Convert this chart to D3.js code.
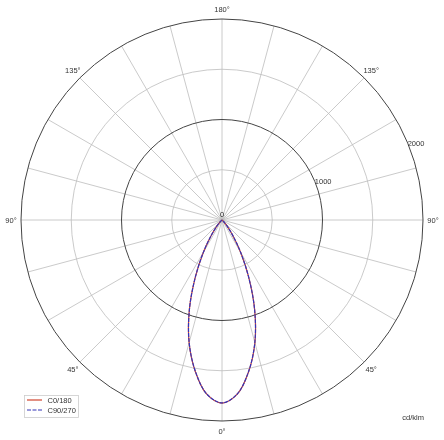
<!DOCTYPE html>
<html>
<head>
<meta charset="utf-8">
<script src="https://cdn.jsdelivr.net/npm/d3@7"></script>
<style>
  body { margin: 0; background: #fff; }
  svg { will-change: transform; }
  text { font-family: "Liberation Sans", Arial, sans-serif; fill: #333; }
</style>
</head>
<body>
<div id="chart"></div>
<script>
var width = 444;
var height = 440;
var cx = 222;
var cy = 220;
var maxR = 201;

// gamma angles (deg from nadir) and intensities in cd/klm
let gammas = [0, 5, 10, 15, 20, 25, 30, 35, 40, 45, 50, 55, 60, 65, 70, 75, 80, 85, 90, 105, 120, 135, 150, 165, 180];
let c0_180 = [1822, 1740, 1530, 1265, 950, 630, 370, 185, 80, 28, 9, 3, 0, 0, 0, 0, 0, 0, 0, 0, 0, 0, 0, 0, 0];
let c90_270 = [1820, 1738, 1528, 1262, 948, 628, 368, 184, 80, 28, 9, 3, 0, 0, 0, 0, 0, 0, 0, 0, 0, 0, 0, 0, 0];

let ringValues = [500, 1000, 1500, 2000];
let majorRings = [1000, 2000];
let ringLabels = ["1000", "2000"];
let angleLabels = [0, 45, 90, 135, 180];
let seriesNames = ["C0/180", "C90/270"];

let scaleR = d3.scaleLinear().domain([0, 2000]).range([0, maxR]);

let svg = d3.select("#chart")
            .append("svg")
            .attr("width", width)
            .attr("height", height);

let chart = svg.append("g")
            .attr("transform", "translate(" + cx + "," + cy + ")");

// gamma -> screen point, side = 1 right, -1 left
const pt = (g, r, side) => {
    let a = g * Math.PI / 180;
    return [side * r * Math.sin(a), r * Math.cos(a)];
};

// spokes every 15 deg
chart.selectAll(".spoke")
    .data(d3.range(0, 360, 15))
    .enter()
    .append("line")
    .attr("x1", 0).attr("y1", 0)
    .attr("x2", d => pt(d, maxR, 1)[0])
    .attr("y2", d => pt(d, maxR, 1)[1])
    .attr("stroke", "#bdbdbd")
    .attr("stroke-width", 0.8);

chart.selectAll(".ring")
    .data(ringValues)
    .enter()
    .append("circle")
    .attr("r", d => scaleR(d))
    .attr("fill", "none")
    .attr("stroke", d => majorRings.includes(d) ? "#444" : "#bdbdbd")
    .attr("stroke-width", d => majorRings.includes(d) ? 1 : 0.8);

// curves: left half (C180 / C270) then right half (C0 / C90)
const curvePoints = (vals) => {
    let left = gammas.map((g, i) => pt(g, scaleR(vals[i]), -1)).reverse();
    let right = gammas.map((g, i) => pt(g, scaleR(vals[i]), 1));
    return left.concat(right.slice(1));
};

let line = d3.line().curve(d3.curveCatmullRom);

chart.append("path")
    .attr("d", line(curvePoints(c0_180)))
    .attr("fill", "none")
    .attr("stroke", "#d0452f")
    .attr("stroke-width", 1.2);

chart.append("path")
    .attr("d", line(curvePoints(c90_270)))
    .attr("fill", "none")
    .attr("stroke", "#3434b8")
    .attr("stroke-width", 1.2)
    .attr("stroke-dasharray", "4,1");

// ring value labels at 22.5 deg above horizontal, right side
chart.selectAll(".rlabel")
    .data(majorRings)
    .enter()
    .append("text")
    .attr("x", d => pt(112.5, scaleR(d), 1)[0])
    .attr("y", d => pt(112.5, scaleR(d), 1)[1])
    .attr("dy", "0.35em")
    .attr("font-size", "7.5px")
    .text((d, i) => ringLabels[i]);

chart.append("text")
    .attr("x", 0).attr("y", -3)
    .attr("text-anchor", "middle")
    .attr("font-size", "7.5px")
    .text("0");

// angle labels
let labelData = [];
angleLabels.forEach(a => {
    labelData.push({a: a, side: 1});
    if (a != 0 && a != 180) labelData.push({a: a, side: -1});
});

chart.selectAll(".alabel")
    .data(labelData)
    .enter()
    .append("text")
    .attr("x", d => pt(d.a, 211, d.side)[0])
    .attr("y", d => pt(d.a, 211, d.side)[1])
    .attr("dy", "0.35em")
    .attr("text-anchor", "middle")
    .attr("font-size", "7.5px")
    .text(d => d.a + "°");

// legend
let legend = svg.append("g").attr("transform", "translate(24.5,395.5)");
legend.append("rect")
    .attr("width", 54).attr("height", 22)
    .attr("fill", "#fff")
    .attr("stroke", "#ccc")
    .attr("stroke-width", 0.8);

let item = legend.selectAll(".item")
    .data(seriesNames)
    .enter()
    .append("g")
    .attr("transform", (d, i) => "translate(0," + (4.5 + i * 10) + ")");

item.append("line")
    .attr("x1", 2.5).attr("x2", 17.5)
    .attr("y1", 0).attr("y2", 0)
    .attr("stroke", (d, i) => i == 0 ? "#d0452f" : "#3434b8")
    .attr("stroke-width", 1.2)
    .attr("stroke-dasharray", (d, i) => i == 0 ? null : "4,1.5");

item.append("text")
    .attr("x", 23).attr("y", 0)
    .attr("dy", "0.35em")
    .attr("font-size", "7.5px")
    .text(d => d);

svg.append("text")
    .attr("x", 424).attr("y", 417)
    .attr("dy", "0.35em")
    .attr("text-anchor", "end")
    .attr("font-size", "7.5px")
    .text("cd/klm");
</script>
</body>
</html>
